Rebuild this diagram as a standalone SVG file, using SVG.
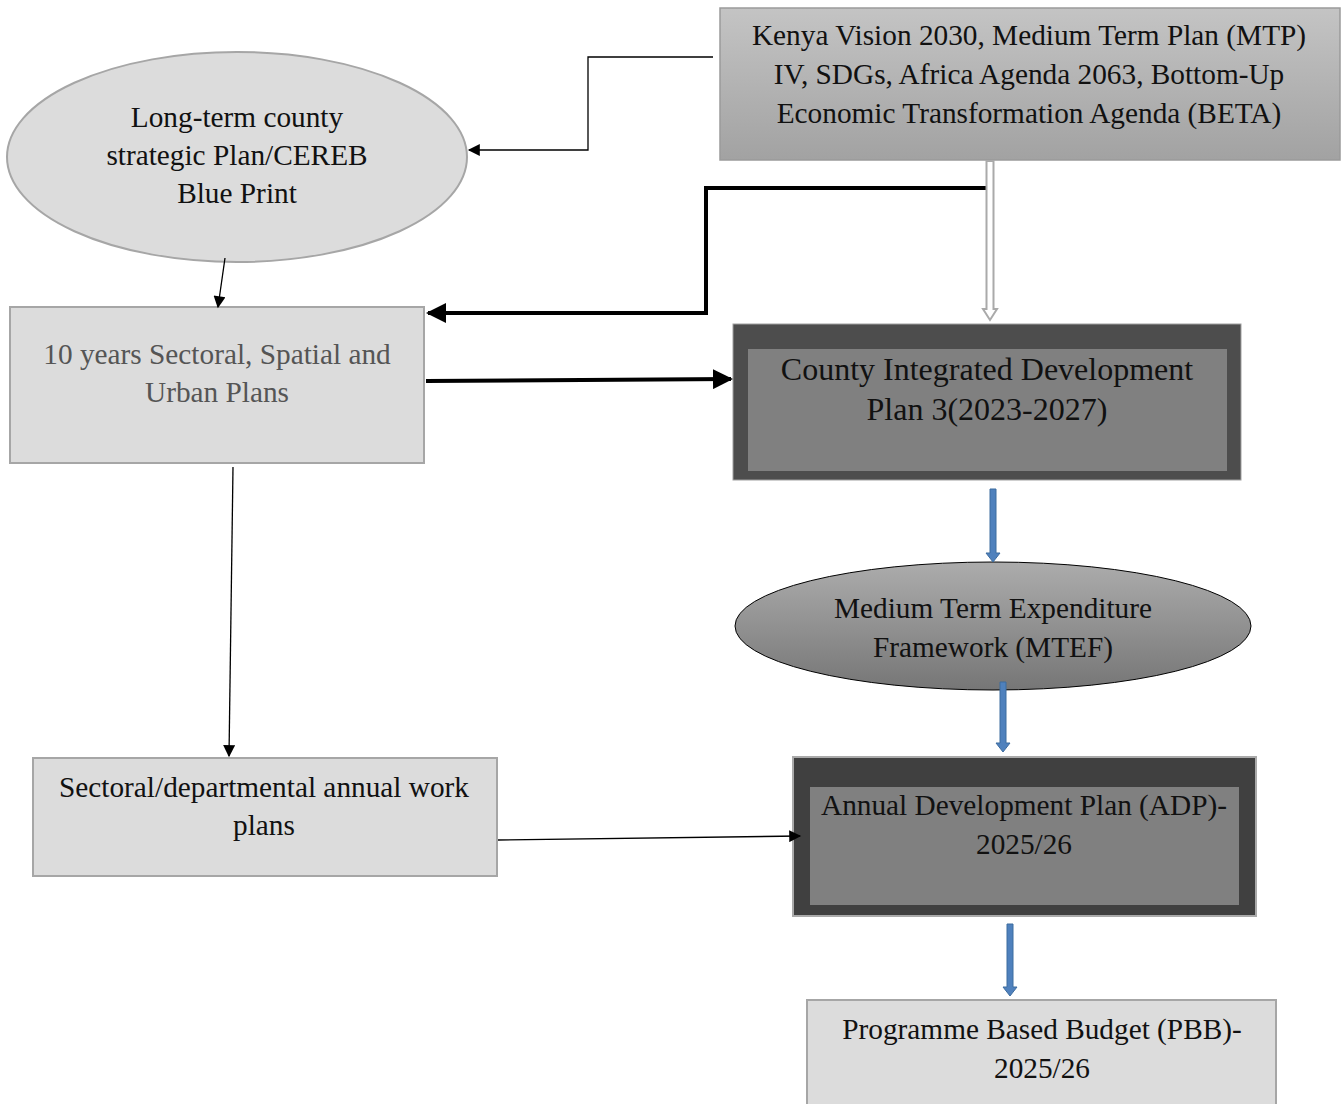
<svg xmlns="http://www.w3.org/2000/svg" width="1344" height="1104" viewBox="0 0 1344 1104">
<defs>
<linearGradient id="gTop" x1="0" y1="0" x2="0" y2="1"><stop offset="0" stop-color="#c4c4c4"/><stop offset="1" stop-color="#a2a2a2"/></linearGradient>
<linearGradient id="gMtef" x1="0" y1="0" x2="0" y2="1"><stop offset="0" stop-color="#acacac"/><stop offset="1" stop-color="#767676"/></linearGradient>
<marker id="ah" viewBox="0 0 10 10" refX="9" refY="5" markerWidth="14" markerHeight="12" markerUnits="userSpaceOnUse" orient="auto"><path d="M0,0 L10,5 L0,10 z" fill="#000"/></marker>
<marker id="ahT" viewBox="0 0 10 10" refX="9" refY="5" markerWidth="5" markerHeight="5" orient="auto"><path d="M0,0 L10,5 L0,10 z" fill="#000"/></marker>
</defs>
<style>
text{font-family:"Liberation Serif","Times New Roman",serif;font-size:29.3px;fill:#111;text-anchor:middle}
.lt{fill:#dcdcdc;stroke:#a6a6a6;stroke-width:2}
.thin{fill:none;stroke:#000;stroke-width:1.3}
.thick{fill:none;stroke:#000;stroke-width:4}
.blueO{fill:#4f81bd;stroke:#3d6c9f;stroke-width:1}
</style>
<g id="n-top">
<rect x="720" y="8" width="620" height="152" fill="url(#gTop)" stroke="#9a9a9a" stroke-width="1.5"/>
<text x="1029" y="45">Kenya Vision 2030, Medium Term Plan (MTP)</text>
<text x="1029" y="84">IV, SDGs, Africa Agenda 2063, Bottom-Up</text>
<text x="1029" y="123">Economic Transformation Agenda (BETA)</text>
</g>
<g id="n-longterm">
<ellipse cx="237" cy="157" rx="230" ry="105" class="lt"/>
<text x="237" y="127">Long-term county</text>
<text x="237" y="165">strategic Plan/CEREB</text>
<text x="237" y="203">Blue Print</text>
</g>
<g id="n-sectoral10">
<rect x="10" y="307" width="414" height="156" class="lt"/>
<text x="217" y="364" style="fill:#555">10 years Sectoral, Spatial and</text>
<text x="217" y="402" style="fill:#555">Urban Plans</text>
</g>
<g id="n-cidp">
<rect x="733" y="324" width="508" height="156" fill="#4d4d4d" stroke="#a0a0a0" stroke-width="1"/>
<rect x="748" y="349" width="479" height="122" fill="#808080"/>
<text x="987" y="380" style="font-size:32px">County Integrated Development</text>
<text x="987" y="420" style="font-size:32px">Plan 3(2023-2027)</text>
</g>
<g id="n-mtef">
<ellipse cx="993" cy="626" rx="258" ry="64" fill="url(#gMtef)" stroke="#000" stroke-width="1"/>
<text x="993" y="618">Medium Term Expenditure</text>
<text x="993" y="657">Framework (MTEF)</text>
</g>
<g id="n-adp">
<rect x="793" y="757" width="463" height="159" fill="#404040" stroke="#aaa" stroke-width="2"/>
<rect x="810" y="787" width="429" height="118" fill="#808080"/>
<text x="1024" y="815">Annual Development Plan (ADP)-</text>
<text x="1024" y="854">2025/26</text>
</g>
<g id="n-pbb">
<rect x="807" y="1000" width="469" height="110" class="lt"/>
<text x="1042" y="1039">Programme Based Budget (PBB)-</text>
<text x="1042" y="1078">2025/26</text>
</g>
<g id="n-annual">
<rect x="33" y="758" width="464" height="118" class="lt"/>
<text x="264" y="797">Sectoral/departmental annual work</text>
<text x="264" y="835">plans</text>
</g>
<g id="connectors">
<path class="thin" d="M713,57 H588 V150 H469" marker-end="url(#ah)"/>
<path class="thick" d="M988,188 H706 V313 H428" marker-end="url(#ahT)"/>
<path class="thick" d="M426,381 L731,379" marker-end="url(#ahT)"/>
<path class="thin" d="M225,258 L218,307" marker-end="url(#ah)"/>
<path class="thin" d="M233,467 L229,756" marker-end="url(#ah)"/>
<path class="thin" d="M498,840 L800,836" marker-end="url(#ah)"/>
<path d="M986.5,161 V309 H983 L990,320 L997,309 H993.5 V161 z" fill="#fff" stroke="#aaaaaa" stroke-width="2"/>
<path class="blueO" d="M990,489 V553 H986 L993,562 L1000,553 H996 V489 z"/>
<path class="blueO" d="M1000,682 V743 H996 L1003,752 L1010,743 H1006 V682 z"/>
<path class="blueO" d="M1007,924 V987 H1003 L1010,996 L1017,987 H1013 V924 z"/>
</g>
</svg>
